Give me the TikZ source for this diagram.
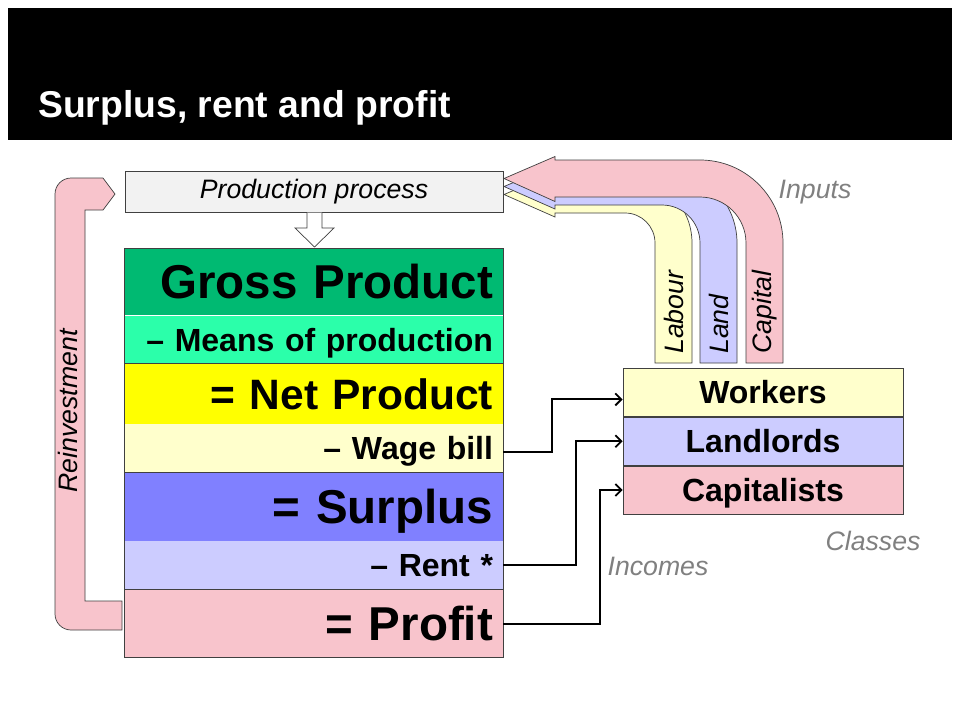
\documentclass[tikz,border=0pt]{standalone}
\usepackage{fontspec}
\setmainfont{Liberation Sans}
\usetikzlibrary{arrows.meta}
\definecolor{grossc}{RGB}{0,186,114}
\definecolor{meansc}{RGB}{43,255,170}
\definecolor{netc}{RGB}{255,255,0}
\definecolor{wagec}{RGB}{255,255,204}
\definecolor{surplusc}{RGB}{128,128,255}
\definecolor{rentc}{RGB}{204,204,255}
\definecolor{profitc}{RGB}{248,196,204}
\definecolor{procc}{RGB}{242,242,242}
\definecolor{framec}{RGB}{64,64,64}
\definecolor{grayc}{RGB}{128,128,128}
\tikzset{
  rowbox/.style={draw=none, minimum width=378pt, text width=358pt, inner xsep=10pt, inner ysep=0pt, align=right, anchor=north},
  bigtxt/.style={font=\bfseries\fontsize{47.5}{50}\selectfont, text height=34pt, text depth=0pt},
  midtxt/.style={font=\bfseries\fontsize{42.5}{45}\selectfont, text height=30.4pt, text depth=0pt},
  smalltxt/.style={font=\bfseries\fontsize{32}{34}\selectfont, text height=22.9pt, text depth=0pt},
  frame/.style={draw=framec, line width=0.8pt},
  classbox/.style={draw=framec, line width=0.8pt, minimum width=280pt, minimum height=48pt, inner sep=0pt, anchor=north, font=\bfseries\fontsize{32}{34}\selectfont, text height=22.9pt, text depth=0pt},
  conn/.style={draw=black, line width=2pt, -{Straight Barb[length=6pt,width=12pt,line width=1.8pt]}},
  shape arrow/.style={draw=framec, line width=0.7pt, line join=miter},
  graylbl/.style={text=grayc, font=\itshape\fontsize{26.67}{28}\selectfont, inner sep=0pt},
  rotlbl/.style={rotate=90, anchor=west, inner sep=0pt, font=\itshape\fontsize{26.67}{28}\selectfont},
}
\begin{document}
\begin{tikzpicture}[x=1pt,y=-1pt]
\useasboundingbox (0,0) rectangle (960,720);
\fill[white] (0,0) rectangle (960,720);
% header
\fill[black] (8,8) rectangle (952,140);
\node[anchor=base west, text=white, font=\bfseries\fontsize{37.33}{40}\selectfont, inner sep=0pt] (title) at (38,117) {Surplus, rent and profit};

% production process
\node[frame, fill=procc, minimum width=378pt, minimum height=41pt, inner sep=0pt, font=\itshape\fontsize{26.67}{28}\selectfont] (prod) at (314,191.5) {Production process};

% down arrow
\draw[shape arrow, fill=white] (307,212.5) -- (307,228) -- (295,228) -- (314.5,247) -- (334,228) -- (322,228) -- (322,212.5);

% stack
\node[rowbox, bigtxt, fill=grossc, minimum height=67pt] (gross) at (314,248) {Gross Product};
\node[rowbox, smalltxt, fill=meansc, minimum height=48pt] (means) at (gross.south) {– Means of production};
\node[rowbox, midtxt, fill=netc, minimum height=60pt] (net) at (means.south) {= Net Product};
\node[rowbox, smalltxt, fill=wagec, minimum height=48pt] (wage) at (net.south) {– Wage bill};
\node[rowbox, bigtxt, fill=surplusc, minimum height=68pt] (surplus) at (wage.south) {= Surplus};
\node[rowbox, smalltxt, fill=rentc, minimum height=48pt] (rent) at (surplus.south) {– Rent *};
\node[rowbox, bigtxt, fill=profitc, minimum height=68pt] (profit) at (rent.south) {= Profit};
\draw[frame] (gross.north west) rectangle (means.south east);
\draw[frame] (net.north west) rectangle (wage.south east);
\draw[frame] (surplus.north west) rectangle (rent.south east);
\draw[frame] (profit.north west) rectangle (profit.south east);

% classes
\node[classbox, fill=wagec] (workers) at (763,368) {Workers};
\node[classbox, fill=rentc] (landlords) at (workers.south) {Landlords};
\node[classbox, fill=profitc] (capitalists) at (landlords.south) {Capitalists};

% income connectors
\draw[conn] ([yshift=-4pt]wage.east) -- ++(49,0) |- ([yshift=-7pt]workers.west);
\draw[conn] (rent.east) -- ++(73,0) |- (landlords.west);
\draw[conn] (profit.east) -- ++(97,0) |- (capitalists.west);

% input arrows
\draw[shape arrow, fill=wagec] (692,363) -- (692,243) .. controls (692,206) and (662,176) .. (625,176) -- (555,176) -- (555,173) -- (504,194.5) -- (555,217) -- (555,213) -- (625,213) .. controls (641.6,213) and (655,226.4) .. (655,243) -- (655,363) -- cycle;
\draw[shape arrow, fill=rentc] (737,363) -- (737,243) .. controls (737,201.6) and (703.4,168) .. (662,168) -- (555,168) -- (555,165) -- (504,186.5) -- (555,209) -- (555,205) -- (662,205) .. controls (683,205) and (700,222) .. (700,243) -- (700,363) -- cycle;
\draw[shape arrow, fill=profitc] (783,363) -- (783,243) .. controls (783,197.2) and (745.8,160) .. (700,160) -- (555,160) -- (555,156.5) -- (504,178.5) -- (555,201.5) -- (555,197) -- (700,197) .. controls (725.4,197) and (746,217.6) .. (746,243) -- (746,363) -- cycle;
\node[rotlbl] (labour) at (673.5,354) {Labour};
\node[rotlbl] (land) at (718.5,354) {Land};
\node[rotlbl] (capital) at (764.5,354) {Capital};

% reinvestment arrow
\draw[shape arrow, fill=profitc] (122,601) -- (85,601) -- (85,210) -- (103,210) -- (115,194) -- (103,178) -- (71,178) .. controls (62.2,178) and (55,185.2) .. (55,194) -- (55,614) .. controls (55,622.8) and (62.2,630) .. (71,630) -- (122,630) -- cycle;
\node[rotlbl, anchor=center] (reinv) at (68,411) {Reinvestment};

% gray labels
\node[graylbl] (inputs) at (815,192) {Inputs};
\node[graylbl] (incomes) at (658,566) {Incomes};
\node[graylbl] (classes) at (873,541) {Classes};
\end{tikzpicture}
\end{document}
